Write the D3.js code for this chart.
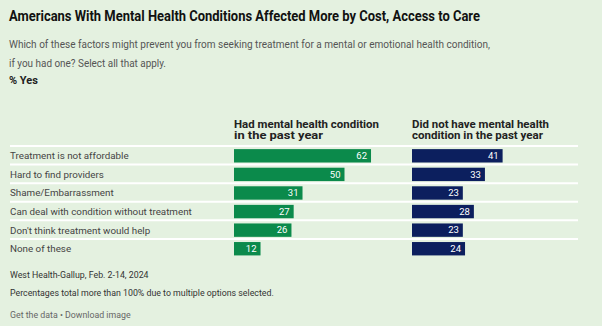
<!DOCTYPE html>
<html>
<head>
<meta charset="utf-8">
<script src="https://cdn.jsdelivr.net/npm/d3@7"></script>
<style>
  body { margin: 0; background: #e4f1e0; }
  svg { display: block; font-family: Roboto, "Liberation Sans", sans-serif; }
</style>
</head>
<body>
<div id="chart"></div>
<script>
"use strict"

// Barriers to mental health care, two side-by-side bar panels

var categories = [
  "Treatment is not affordable",
  "Hard to find providers",
  "Shame/Embarrassment",
  "Can deal with condition without treatment",
  "Don't think treatment would help",
  "None of these"
]
var hadCondition = [62, 50, 31, 27, 26, 12]
var noCondition = [41, 33, 23, 28, 23, 24]
var seriesNames = [
  ["Had mental health condition", "in the past year"],
  ["Did not have mental health", "condition in the past year"]
]

var width = 602
var height = 326
var green = "#0b8a4b"
var navy = "#0c1f5e"

var svg = d3.select("#chart").append("svg")
  .attr("width", width)
  .attr("height", height)

// shrink/stretch a text node to a measured width from the reference
function fit(sel, w) {
  sel.attr("textLength", w).attr("lengthAdjust", "spacingAndGlyphs")
  return sel
}

fit(svg.append("text")
  .attr("x", 9).attr("y", 21)
  .attr("font-size", 14.5).attr("font-weight", 700)
  .attr("fill", "#111")
  .text("Americans With Mental Health Conditions Affected More by Cost, Access to Care"), 471)

fit(svg.append("text")
  .attr("x", 9).attr("y", 48)
  .attr("font-size", 11.5).attr("fill", "#555")
  .text("Which of these factors might prevent you from seeking treatment for a mental or emotional health condition,"), 481)

fit(svg.append("text")
  .attr("x", 9).attr("y", 67)
  .attr("font-size", 11.5).attr("fill", "#555")
  .text("if you had one? Select all that apply."), 157)

svg.append("text")
  .attr("x", 9).attr("y", 84)
  .attr("font-size", 11).attr("font-weight", 700)
  .attr("fill", "#222")
  .text("% Yes")

// shared row band and value scale
var y = d3.scaleBand()
  .domain(categories)
  .range([146, 257.5])
  .paddingInner(0.28)
  .paddingOuter(0.14)
  .align(0.6)

var x = d3.scaleLinear().domain([0, 100]).range([0, 221])

var rowStep = y.step()
var rowTop = 146

// separator lines
svg.append("g").selectAll("line")
  .data(categories)
  .enter().append("line")
    .attr("x1", 10).attr("x2", 578)
    .attr("y1", function(d, i) { return rowTop + i * rowStep })
    .attr("y2", function(d, i) { return rowTop + i * rowStep })
    .attr("stroke", "#fff").attr("stroke-width", 2)

// row labels
svg.append("g").selectAll("text")
  .data(categories)
  .enter().append("text")
    .attr("x", 10)
    .attr("y", function(d) { return y(d) + y.bandwidth() / 2 })
    .attr("dy", "0.35em")
    .attr("font-size", 9.8).attr("fill", "#444")
    .text(function(d) { return d })

var panels = [
  { x0: 234, values: hadCondition, color: green, name: seriesNames[0], widths: [145, 89] },
  { x0: 412, values: noCondition, color: navy, name: seriesNames[1], widths: [137, 131] }
]

panels.forEach(function(p) {
  var g = svg.append("g").attr("transform", "translate(" + p.x0 + ",0)")

  p.name.forEach(function(line, i) {
    fit(g.append("text")
      .attr("x", 0)
      .attr("y", 128 + i * 10.7)
      .attr("font-size", 10.2).attr("font-weight", 700).attr("fill", "#222")
      .text(line), p.widths[i])
  })

  var rows = g.selectAll("g.bar")
    .data(p.values)
    .enter().append("g")
      .attr("class", "bar")

  rows.append("rect")
    .attr("x", 0)
    .attr("y", function(d, i) { return y(categories[i]) })
    .attr("width", function(d) { return x(d) })
    .attr("height", y.bandwidth())
    .attr("fill", p.color)

  rows.append("text")
    .attr("x", function(d) { return x(d) - 4 })
    .attr("y", function(d, i) { return y(categories[i]) + y.bandwidth() / 2 })
    .attr("dy", "0.35em")
    .attr("text-anchor", "end")
    .attr("font-size", 9.5).attr("fill", "#fff")
    .text(function(d) { return d })
})

// footer
svg.append("text")
  .attr("x", 10).attr("y", 278)
  .attr("font-size", 8.8).attr("fill", "#333")
  .text("West Health-Gallup, Feb. 2-14, 2024")

svg.append("text")
  .attr("x", 10).attr("y", 296)
  .attr("font-size", 8.8).attr("fill", "#333")
  .text("Percentages total more than 100% due to multiple options selected.")

svg.append("text")
  .attr("x", 10).attr("y", 317.5)
  .attr("font-size", 8.8).attr("fill", "#666")
  .text("Get the data \u2022 Download image")
</script>
</body>
</html>
